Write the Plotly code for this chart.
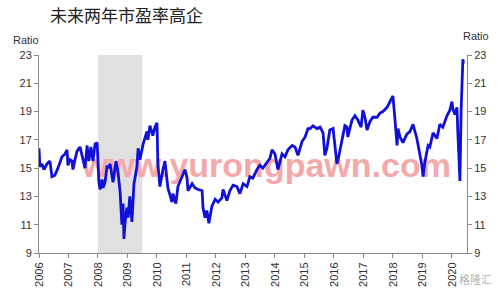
import plotly.graph_objects as go

# decimal year, forward P/E ratio
dates = [2006.00, 2006.03, 2006.10, 2006.17, 2006.27, 2006.37, 2006.44, 2006.54, 2006.64, 2006.78,
         2006.88, 2006.95, 2006.98, 2007.05, 2007.12, 2007.15, 2007.22, 2007.29, 2007.39, 2007.49,
         2007.56, 2007.63, 2007.69, 2007.76, 2007.83, 2007.90, 2007.97, 2008.00, 2008.03, 2008.07,
         2008.14, 2008.17, 2008.24, 2008.31, 2008.34, 2008.41, 2008.47, 2008.51, 2008.61, 2008.68,
         2008.75, 2008.81, 2008.85, 2008.88, 2008.92, 2008.98, 2009.02, 2009.08, 2009.15, 2009.22,
         2009.32, 2009.36, 2009.42, 2009.53, 2009.66, 2009.69, 2009.76, 2009.86, 2009.93, 2010.00,
         2010.03, 2010.10, 2010.20, 2010.27, 2010.37, 2010.51, 2010.54, 2010.64, 2010.71, 2010.85,
         2010.95, 2011.02, 2011.05, 2011.19, 2011.29, 2011.39, 2011.53, 2011.56, 2011.63, 2011.69,
         2011.76, 2011.86, 2011.97, 2012.07, 2012.20, 2012.24, 2012.37, 2012.47, 2012.58, 2012.71,
         2012.81, 2012.92, 2013.05, 2013.15, 2013.25, 2013.39, 2013.49, 2013.59, 2013.73, 2013.83,
         2013.90, 2014.00, 2014.10, 2014.24, 2014.34, 2014.44, 2014.58, 2014.68, 2014.78, 2014.92,
         2015.02, 2015.12, 2015.19, 2015.29, 2015.42, 2015.53, 2015.63, 2015.69, 2015.76, 2015.86,
         2015.97, 2016.03, 2016.10, 2016.14, 2016.20, 2016.31, 2016.37, 2016.44, 2016.47, 2016.61,
         2016.71, 2016.81, 2016.92, 2016.98, 2017.05, 2017.12, 2017.22, 2017.32, 2017.46, 2017.56,
         2017.66, 2017.80, 2017.90, 2018.00, 2018.07, 2018.14, 2018.17, 2018.24, 2018.34, 2018.47,
         2018.58, 2018.68, 2018.81, 2018.85, 2018.92, 2018.98, 2019.02, 2019.08, 2019.19, 2019.25,
         2019.36, 2019.49, 2019.59, 2019.69, 2019.83, 2019.93, 2020.00, 2020.03, 2020.10, 2020.17,
         2020.20, 2020.24, 2020.27, 2020.31, 2020.34, 2020.37, 2020.39]
ratio = [16.4, 15.1, 15.3, 14.9, 15.3, 15.5, 14.4, 14.5, 15.0, 15.8,
         16.0, 16.3, 15.2, 15.6, 15.5, 14.9, 15.6, 16.2, 16.5, 15.5,
         15.0, 16.6, 15.5, 16.5, 15.5, 16.7, 16.8, 15.5, 14.0, 13.5,
         14.2, 13.6, 14.0, 15.2, 15.0, 15.3, 14.5, 14.0, 15.5, 14.7,
         13.3, 11.0, 12.5, 10.0, 11.2, 12.2, 11.5, 13.0, 11.2, 13.9,
         15.1, 16.4, 15.6, 16.7, 17.6, 17.0, 18.0, 17.3, 17.9, 18.2,
         15.3, 13.7, 14.9, 15.5, 13.6, 12.6, 13.2, 12.5, 13.7, 14.4,
         14.9, 14.3, 13.4, 13.9, 13.6, 13.5, 13.4, 12.2, 11.5, 12.0,
         11.1, 12.3, 12.8, 12.6, 12.9, 13.5, 12.7, 13.4, 13.8, 13.7,
         13.2, 13.9, 13.7, 14.4, 14.3, 14.9, 15.2, 15.0, 15.4, 15.7,
         16.3, 16.0, 14.9, 16.0, 15.8, 16.3, 16.6, 16.5, 15.9, 16.9,
         17.2, 17.8, 17.8, 18.0, 17.8, 17.9, 17.5, 15.9, 16.4, 17.7,
         17.8, 16.6, 15.3, 15.6, 16.3, 17.5, 18.0, 17.9, 17.2, 18.4,
         18.7, 18.4, 17.9, 19.1, 18.6, 17.7, 18.3, 18.6, 18.6, 18.9,
         19.0, 19.3, 19.7, 20.1, 18.4, 16.6, 17.8, 17.2, 16.8, 17.4,
         17.6, 18.1, 17.1, 16.7, 16.0, 15.2, 14.4, 15.4, 16.6, 16.5,
         17.5, 17.1, 18.1, 17.9, 18.7, 19.1, 19.7, 19.2, 18.8, 19.3,
         17.5, 15.6, 14.1, 19.0, 21.0, 22.7, 22.4]

recession = [2008.0, 2009.5]
years = list(range(2006, 2021))
yticks = list(range(9, 24, 2))

fig = go.Figure()

fig.add_shape(type="rect", x0=recession[0], x1=recession[1], y0=0, y1=1,
              xref="x", yref="paper", fillcolor="#e0e0e0", line_width=0, layer="below")

# watermark (below the line)
fig.add_trace(go.Scatter(x=[2013.71], y=[14.95], mode="text",
                         text=["<b>www.yurongpawn.com</b>"],
                         textfont=dict(family="Liberation Sans, Arial", size=34,
                                       color="#f4a8aa"),
                         hoverinfo="skip", showlegend=False, cliponaxis=False))

fig.add_trace(go.Scatter(x=dates, y=ratio, mode="lines",
                         line=dict(color="#1010d8", width=2.8),
                         showlegend=False))
# invisible trace for right axis
fig.add_trace(go.Scatter(x=[dates[0]], y=[ratio[0]], yaxis="y2", mode="lines",
                         line=dict(width=0), showlegend=False, hoverinfo="skip"))

axis_font = dict(family="Liberation Sans, Arial", size=11, color="#333333")

fig.update_layout(
    width=499, height=299,
    margin=dict(l=39, r=32, t=55, b=40),
    paper_bgcolor="white", plot_bgcolor="white",
    xaxis=dict(range=[2006, 2020.51], tickvals=years, ticktext=[str(y) for y in years],
               tickangle=-90, ticks="outside", ticklen=4, tickcolor="#888888",
               showline=True, linecolor="#888888", linewidth=1, showgrid=False,
               zeroline=False, tickfont=axis_font),
    yaxis=dict(range=[9, 23], tickvals=yticks, ticks="outside", ticklen=4,
               tickcolor="#888888", showline=True, linecolor="#888888", linewidth=1,
               showgrid=False, zeroline=False, tickfont=axis_font),
    yaxis2=dict(range=[9, 23], tickvals=yticks, overlaying="y", side="right",
                ticks="outside", ticklen=4, tickcolor="#888888", showline=True,
                linecolor="#888888", linewidth=1, showgrid=False, zeroline=False,
                tickfont=axis_font),
    annotations=[
        dict(text="未来两年市盈率高企", xref="paper", yref="paper", x=9/428,
             y=1, xanchor="left", yanchor="bottom", showarrow=False,
             font=dict(family="Noto Sans CJK SC", size=17, color="#222222"),
             yshift=26),
        dict(text="Ratio", xref="paper", yref="paper", x=0, y=1, xanchor="right",
             yanchor="bottom", showarrow=False, xshift=2, yshift=7,
             font=dict(family="Liberation Sans, Arial", size=11, color="#333333")),
        dict(text="Ratio", xref="paper", yref="paper", x=1, y=1, xanchor="left",
             yanchor="bottom", showarrow=False, xshift=-6, yshift=11,
             font=dict(family="Liberation Sans, Arial", size=11, color="#333333")),
        dict(text="格隆汇", xref="paper", yref="paper", x=1, y=0, xanchor="right",
             yanchor="top", showarrow=False, xshift=27, yshift=-16,
             font=dict(family="Noto Sans CJK SC", size=11, color="rgba(150,150,150,0.75)")),
    ],
)

fig.write_html("out.html")
